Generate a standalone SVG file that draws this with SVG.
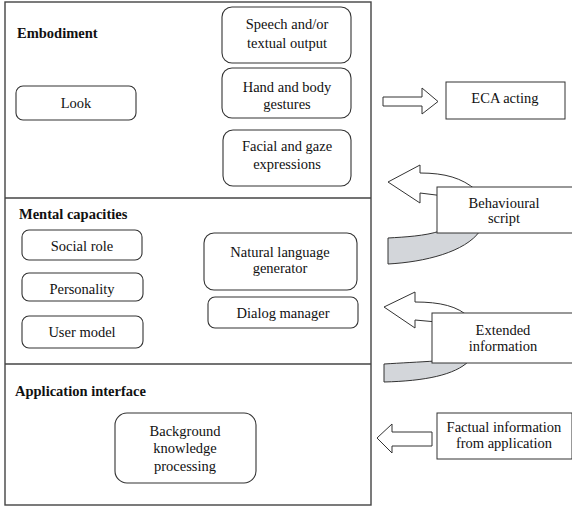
<svg xmlns="http://www.w3.org/2000/svg" width="572" height="506" viewBox="0 0 572 506">
<style>
text{font-size:14.5px;fill:#111;text-anchor:middle}
.h{font-weight:bold;text-anchor:start}
.frame{fill:none;stroke:#444;stroke-width:1.4}
.rb{fill:#fff;stroke:#333;stroke-width:1.1}
.sb{fill:#fff;stroke:#333;stroke-width:1}
.ar{fill:#fff;stroke:#333;stroke-width:1}
.gr{fill:#d3d6da;stroke:#333;stroke-width:1}
</style>
<rect width="572" height="506" fill="#fff"/>
<g font-family="'Liberation Serif', Tinos, 'Times New Roman', 'DejaVu Serif', serif">
<g id="frame">
<rect class="frame" x="5" y="2" width="366" height="503"/>
<line class="frame" x1="5" y1="198" x2="371" y2="198"/>
<line class="frame" x1="5" y1="364" x2="371" y2="364"/>
<text class="h" x="17" y="38">Embodiment</text>
<text class="h" x="19" y="219">Mental capacities</text>
<text class="h" x="15" y="396">Application interface</text>
</g>
<g id="look"><rect class="rb" x="16" y="86" width="120" height="34" rx="7"/><text x="76" y="108">Look</text></g>
<g id="speech"><rect class="rb" x="222" y="7" width="129" height="56" rx="10"/><text x="287" y="29">Speech and/or</text><text x="287" y="48">textual output</text></g>
<g id="gestures"><rect class="rb" x="222" y="68" width="129" height="50" rx="10"/><text x="287" y="92">Hand and body</text><text x="287" y="109">gestures</text></g>
<g id="facial"><rect class="rb" x="223" y="130" width="128" height="56" rx="10"/><text x="287" y="151">Facial and gaze</text><text x="287" y="169">expressions</text></g>
<g id="social"><rect class="rb" x="22" y="230" width="120" height="30" rx="7"/><text x="82" y="251">Social role</text></g>
<g id="personality"><rect class="rb" x="22" y="273" width="121" height="28" rx="7"/><text x="82" y="294">Personality</text></g>
<g id="usermodel"><rect class="rb" x="22" y="316" width="121" height="32" rx="7"/><text x="82" y="337">User model</text></g>
<g id="nlg"><rect class="rb" x="204" y="233" width="153" height="57" rx="10"/><text x="280" y="257">Natural language</text><text x="280" y="273">generator</text></g>
<g id="dialog"><rect class="rb" x="208" y="297" width="150" height="31" rx="7"/><text x="283" y="318">Dialog manager</text></g>
<g id="background"><rect class="rb" x="115" y="413" width="141" height="70" rx="12"/><text x="185" y="436">Background</text><text x="185" y="453">knowledge</text><text x="185" y="471">processing</text></g>
<g id="connectors">
<path class="ar" d="M383,97 L422,97 L422,88 L438,101.5 L422,114 L422,106 L383,106 Z"/>
<path class="ar" d="M388,182 L420,165 L420,173 C445,173 462,178 476,190 L476,200 L420,193 L420,203 Z"/>
<path class="gr" d="M388,238 C405,237 425,236 440,231 L480,231 C465,252 425,262 388,264 Z"/>
<path class="ar" d="M384,307 L415,292 L415,302 C440,302 458,306 470,318 L470,325 L415,320 L415,328 Z"/>
<path class="gr" d="M384,364 C400,363 420,362 435,361 L469,361 C455,375 425,381 384,382 Z"/>
<path class="ar" d="M377,438 L392,424 L392,432 L432,432 L432,446 L392,446 L392,453 Z"/>
</g>
<g id="eca"><rect class="sb" x="446" y="82" width="119" height="37"/><text x="505" y="103">ECA acting</text></g>
<g id="behavioural"><rect class="sb" x="437" y="187" width="140" height="46"/><text x="504" y="208">Behavioural</text><text x="504" y="223">script</text></g>
<g id="extended"><rect class="sb" x="432" y="313" width="145" height="50"/><text x="503" y="335">Extended</text><text x="503" y="351">information</text></g>
<g id="factual"><rect class="sb" x="437" y="413" width="135" height="46"/><text x="504" y="432">Factual information</text><text x="504" y="448">from application</text></g>
</g>
</svg>
